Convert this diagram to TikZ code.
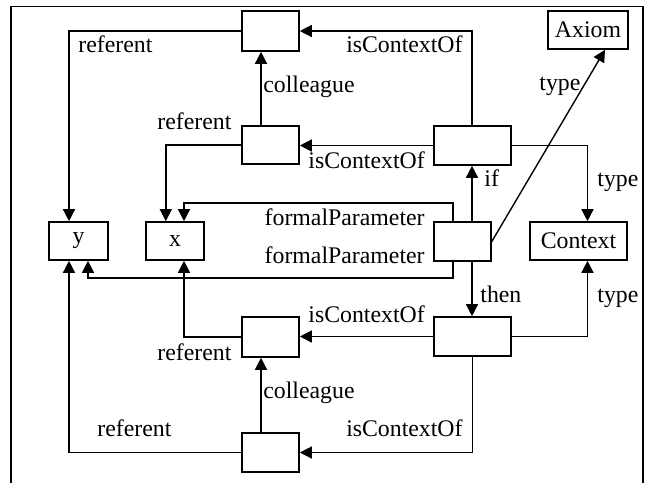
\documentclass[tikz,border=0pt]{standalone}
\usepackage{fontspec}
\setmainfont{Liberation Serif}
\usetikzlibrary{arrows.meta}
\begin{document}
\begin{tikzpicture}[x=0.5pt,y=-0.5pt,
  box/.style={draw, line width=0.8pt, inner sep=0pt, font=\fontsize{11.9pt}{14pt}\selectfont},
  conn/.style={line width=0.7pt, -{Triangle[length=6pt,width=6pt]}},
  lbl/.style={inner sep=0pt, font=\fontsize{11.9pt}{14pt}\selectfont},
]
\useasboundingbox (0,0) rectangle (649,483);
\draw[line width=0.75pt] (11,483) -- (11,6.5) -- (643,6.5) -- (643,483);

% nodes
\node[box, minimum width=28.5pt, minimum height=20pt]   (t1) at (270.5,31) {};
\node[box, minimum width=28.5pt, minimum height=19pt]   (t2) at (270.5,145) {};
\node[box, minimum width=38.5pt, minimum height=19.5pt] (r1) at (472.5,145.5) {};
\node[box, minimum width=28.5pt, minimum height=19.5pt] (m)  at (462.5,241.5) {};
\node[box, minimum width=38.5pt, minimum height=19.5pt] (r2) at (472.5,336.5) {};
\node[box, minimum width=28.5pt, minimum height=20pt]   (b2) at (270.5,337) {};
\node[box, minimum width=28.5pt, minimum height=19.5pt] (b1) at (270.5,452.5) {};
\node[box, minimum width=29.5pt, minimum height=19pt]   (y)  at (78.5,241) {y};
\node[box, minimum width=29pt, minimum height=19pt]     (x)  at (175,241) {x};
\node[box, minimum width=40pt, minimum height=19pt]     (ax) at (588,30) {Axiom};
\node[box, minimum width=48.5pt, minimum height=19pt]   (ctx) at (578.5,241) {Context};

\coordinate (fp1) at (453,203);
\coordinate (fp2) at (453,278);

% connectors
\draw[conn] ([xshift=-0.25pt]r1.north) |- (t1.east);
\draw[conn] (t1.west) -| ([xshift=-4.75pt]y.north);
\draw[conn] ([xshift=-4.75pt]t2.north) -- ([xshift=-4.75pt]t1.south);
\draw[conn] (r1.west) -- (r1.west -| t2.east);
\draw[conn] (t2.west) -| ([xshift=-4.6pt]x.north);
\draw[conn] (fp1 |- m.north) -- (fp1) -| ([xshift=4.5pt]x.north);
\draw[conn] (fp2 |- m.south) -- (fp2) -| ([xshift=4.75pt]y.south);
\draw[conn] ([xshift=4.75pt]m.north) -- ([xshift=4.75pt]m.north |- r1.south);
\draw[conn] (m.east) -- ([xshift=8.5pt]ax.south);
\draw[conn] (r1.east) -| ([xshift=4.5pt]ctx.north);
\draw[conn] ([xshift=4.75pt]m.south) -- ([xshift=4.75pt]m.south |- r2.north);
\draw[conn] (r2.east) -| ([xshift=4.5pt]ctx.south);
\draw[conn] (r2.west) -- (r2.west -| b2.east);
\draw[conn] (b2.west) -| ([xshift=4.5pt]x.south);
\draw[conn] ([xshift=-4.75pt]b1.north) -- ([xshift=-4.75pt]b1.north |- b2.south);
\draw[conn] (r2.south) |- (b1.east);
\draw[conn] (b1.west) -| ([xshift=-4.75pt]y.south);

% labels
\node[lbl, anchor=base east] (l1)  at (463,52)  {isContextOf};
\node[lbl, anchor=base west] (l2)  at (78,52)   {referent};
\node[lbl, anchor=base west] (l3)  at (263,92)  {colleague};
\node[lbl, anchor=base west] (l4)  at (157,129) {referent};
\node[lbl, anchor=base west] (l5)  at (308,168) {isContextOf};
\node[lbl, anchor=base west] (l6)  at (539,90)  {type};
\node[lbl, anchor=base west] (l7)  at (597,186) {type};
\node[lbl, anchor=base west] (l8)  at (484,186) {if};
\node[lbl, anchor=base east] (l9)  at (425,225) {formalParameter};
\node[lbl, anchor=base east] (l10) at (425,263) {formalParameter};
\node[lbl, anchor=base west] (l11) at (480,302) {then};
\node[lbl, anchor=base west] (l12) at (597,302) {type};
\node[lbl, anchor=base west] (l13) at (308,322) {isContextOf};
\node[lbl, anchor=base west] (l14) at (157,360) {referent};
\node[lbl, anchor=base west] (l15) at (263,398) {colleague};
\node[lbl, anchor=base west] (l16) at (97,436)  {referent};
\node[lbl, anchor=base east] (l17) at (463,436) {isContextOf};
\end{tikzpicture}
\end{document}
